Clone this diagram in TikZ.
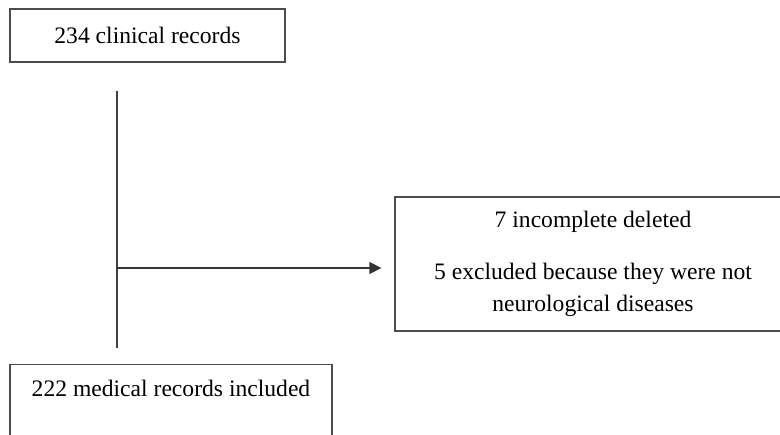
\documentclass[tikz,border=0pt]{standalone}
\usepackage{fontspec}
\setmainfont{Liberation Serif}
\usetikzlibrary{calc}
\usetikzlibrary{arrows.meta,positioning}

\begin{document}
\begin{tikzpicture}[x=1pt,y=1pt,thick,>={Triangle[length=12pt,width=12pt]}]
      \tikzstyle{block}=[draw=black!70,line width=1.3pt,rectangle,inner sep=0pt,align=center,font=\fontsize{23.6}{32}\selectfont]

      \useasboundingbox (0,0) rectangle (780,-435);
      \clip (0,0) rectangle (780,-435);

      \node[block,minimum width=275pt,minimum height=53pt] (records) at (147.5,-35.5) {234 clinical records};
      \node[block,minimum width=396pt,minimum height=134pt] (excl) at (593,-264) {7 incomplete deleted\\[20pt]5 excluded because they were not\\neurological diseases};
      \node[block,anchor=north,minimum width=322pt,text height=17pt,text depth=70pt,inner ysep=15pt] (incl) at (171,-364) {222 medical records included};
      \coordinate (split) at (117,-268);

      \draw[black!75,line width=1.3pt] ([yshift=-28pt]records.south -| split)--([yshift=16pt]incl.north -| split);
      \draw[->,black!80,line width=1.3pt,shorten >=13pt] (split)--(split -| excl.west);
    \end{tikzpicture}
\end{document}
